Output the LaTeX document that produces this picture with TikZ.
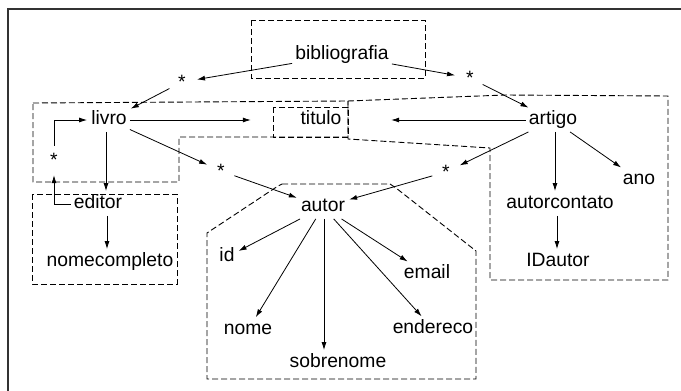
\documentclass[tikz,border=0pt]{standalone}
\usepackage{fontspec}
\setmainfont{Liberation Sans}
\usetikzlibrary{arrows.meta}
\begin{document}
\begin{tikzpicture}[x=1pt,y=-1pt,
  every node/.style={font=\fontsize{19.3}{22}\selectfont},
  term/.style={inner sep=3pt, text height=13.5pt, text depth=4pt},
  star/.style={circle, inner sep=0pt, minimum size=28pt},
  link/.style={-{Latex[length=8pt,width=5pt]}, line width=0.8pt, shorten >=1pt},
  group/.style={dash pattern=on 6pt off 3pt, line width=0.9pt, black},
]
\useasboundingbox (0,0) rectangle (681,391);
% outer frame
\draw[line width=1.2pt, black!80] (8,391) -- (8,9) -- (681,9);

% nodes
\node[term] (bib) at (342,55) {bibliografia};
\node[star] (s1) at (182,82) {\raisebox{-6pt}{*}};
\node[star] (s2) at (470,78) {\raisebox{-6pt}{*}};
\node[term] (livro) at (109,120) {livro};
\node[term, minimum width=138pt] (titulo) at (321,120) {titulo};
\node[term] (artigo) at (553,120) {artigo};
\node[star] (s3) at (54,160) {\raisebox{-6pt}{*}};
\node[star] (s4) at (221,171) {\raisebox{-6pt}{*}};
\node[star] (s5) at (446,172) {\raisebox{-6pt}{*}};
\node[term] (ano) at (639,180) {ano};
\node[term] (editor) at (98,204) {editor};
\node[term] (autor) at (323,207) {autor};
\node[term] (autorcontato) at (560,204) {autorcontato};
\node[term] (nomecompleto) at (110,262) {nomecompleto};
\node[term] (id) at (227,257) {id};
\node[term] (email) at (427,274) {email};
\node[term] (IDautor) at (558,262) {IDautor};
\node[term] (nome) at (248,330) {nome};
\node[term] (endereco) at (433,329) {endereco};
\node[term] (sobrenome) at (338,363) {sobrenome};

% dashed groupings
\draw[group] (251,20) rectangle (425,78);
\draw[group] (33,103) -- (348,101) -- (348,137) -- (179,137) -- (179,182) -- (33,182) -- cycle;
\draw[group] (273,107) rectangle (348,137);
\draw[group] (348,101) -- (505,95) -- (668,96) -- (668,280) -- (490,280) -- (490,148) -- (348,139) -- cycle;
\draw[group] (32,194) rectangle (177,284);
\draw[group] (282,184) -- (390,184) -- (396,188) -- (476,251) -- (476,379) -- (207,379) -- (207,233) -- (278,186) -- cycle;

% connectors
\draw[link] (bib) -- (s1);
\draw[link] (s1) -- (livro);
\draw[link] (bib) -- (s2);
\draw[link] (s2) -- (artigo);
\draw[link] (livro) -- (titulo);
\draw[link] (artigo) -- (titulo);
\draw[link] (livro) -- (s4);
\draw[link] (s4) -- (autor);
\draw[link] ([xshift=-3pt]livro.south) -- ([xshift=8pt]editor.north);
\draw[link] (editor.west) -| (s3.south);
\draw[link] (s3.north) |- (livro.west);
\draw[link] ([xshift=9pt]editor.south) -- ([xshift=-3pt]nomecompleto.north);
\draw[link] (artigo) -- (s5);
\draw[link] (s5) -- (autor);
\draw[link] ([xshift=2pt]artigo.south) -- ([xshift=-5pt]autorcontato.north);
\draw[link] (artigo) -- (ano);
\draw[link] ([xshift=-3pt]autorcontato.south) -- ([xshift=-1pt]IDautor.north);
\draw[link] (autor) -- (id);
\draw[link] (autor) -- (nome);
\draw[link] ([xshift=1pt]autor.south) -- ([xshift=-14pt]sobrenome.north);
\draw[link] (autor) -- (endereco);
\draw[link] (autor) -- (email);
\end{tikzpicture}
\end{document}
